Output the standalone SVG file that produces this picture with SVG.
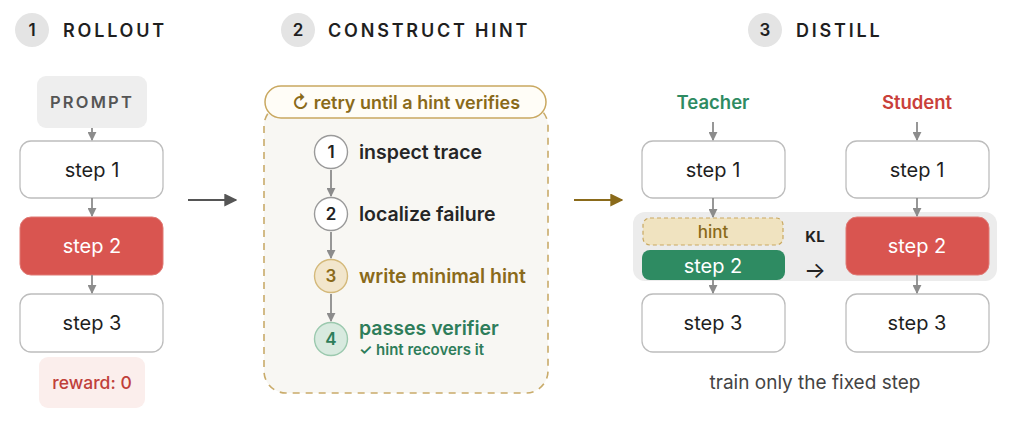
<svg xmlns="http://www.w3.org/2000/svg" width="1024" height="430" viewBox="0 0 1024 430">
<defs>
<style>
text{font-family:Inter,"Noto Sans","Liberation Sans",sans-serif;}
.hdr{font-size:18px;font-weight:600;letter-spacing:2.8px;fill:#1f1f1f;}
.hnum{font-size:17px;font-weight:600;fill:#1f1f1f;text-anchor:middle;}
.hc{fill:#e4e4e4;}
.box{fill:#fff;stroke:#bdbdbd;stroke-width:1.3;}
.red{fill:#d95550;stroke:#e07a75;stroke-width:1;}
.lbl{font-size:20px;fill:#1f1f1f;text-anchor:middle;}
.wl{font-size:20px;fill:#fff;text-anchor:middle;}
.ar{stroke:#8c8c8c;stroke-width:1.8;fill:none;marker-end:url(#ag);}
.st{font-size:19.5px;font-weight:600;fill:#262626;}
</style>
<marker id="ag" viewBox="0 0 10 10" refX="9" refY="5" markerWidth="9" markerHeight="9" markerUnits="userSpaceOnUse" orient="auto"><path d="M0,0L10,5L0,10z" fill="#8c8c8c"/></marker>
<marker id="ad" viewBox="0 0 10 10" refX="9" refY="5" markerWidth="13" markerHeight="13" markerUnits="userSpaceOnUse" orient="auto"><path d="M0,0L10,5L0,10z" fill="#555"/></marker>
<marker id="ao" viewBox="0 0 10 10" refX="9" refY="5" markerWidth="13" markerHeight="13" markerUnits="userSpaceOnUse" orient="auto"><path d="M0,0L10,5L0,10z" fill="#8a6a1a"/></marker>
</defs>
<rect width="1024" height="430" fill="#fff"/>

<g id="headers">
<circle class="hc" cx="32" cy="30" r="17"/><text class="hnum" x="32" y="36">1</text>
<text class="hdr" x="63" y="37">ROLLOUT</text>
<circle class="hc" cx="298" cy="30" r="17"/><text class="hnum" x="298" y="36">2</text>
<text class="hdr" x="328" y="37">CONSTRUCT HINT</text>
<circle class="hc" cx="765" cy="30" r="17"/><text class="hnum" x="765" y="36">3</text>
<text class="hdr" x="796" y="37">DISTILL</text>
</g>

<g id="prompt"><rect x="37" y="76" width="110" height="52" rx="9" fill="#eeeeee"/><text x="92" y="108" font-size="16.5" font-weight="600" fill="#555" text-anchor="middle" letter-spacing="2.2">PROMPT</text></g>
<g id="r-step1"><rect class="box" x="20" y="141" width="143" height="57" rx="11"/><text class="lbl" x="92" y="177">step 1</text></g>
<g id="r-step2"><rect class="red" x="20" y="217" width="143" height="58" rx="11"/><text class="wl" x="92" y="253">step 2</text></g>
<g id="r-step3"><rect class="box" x="20" y="294" width="143" height="58" rx="11"/><text class="lbl" x="92" y="330">step 3</text></g>
<g id="reward"><rect x="39" y="357" width="106" height="51" rx="9" fill="#fbeeec"/><text x="92" y="389" font-size="17.5" font-weight="500" fill="#c0403a" text-anchor="middle">reward: 0</text></g>

<g id="hint-loop">
<rect x="264" y="104" width="284" height="289" rx="22" fill="#f8f7f3" stroke="#c9ab6a" stroke-width="1.6" stroke-dasharray="7 6"/>
<rect x="265" y="86" width="281" height="32" rx="16" fill="#fffdf7" stroke="#c9a860" stroke-width="1.5"/>
<text x="406" y="109" font-size="18" font-weight="600" fill="#8a6a1a" text-anchor="middle">↻ retry until a hint verifies</text>
</g>
<g id="c1"><circle cx="331" cy="152" r="16.5" fill="#fff" stroke="#9a9a9a" stroke-width="1.4"/><text x="331" y="158" font-size="17" font-weight="600" fill="#222" text-anchor="middle">1</text><text class="st" x="359" y="159">inspect trace</text></g>
<g id="c2"><circle cx="331" cy="214" r="16.5" fill="#fff" stroke="#9a9a9a" stroke-width="1.4"/><text x="331" y="220" font-size="17" font-weight="600" fill="#222" text-anchor="middle">2</text><text class="st" x="359" y="221">localize failure</text></g>
<g id="c3"><circle cx="331" cy="276" r="16.5" fill="#f2e6cc" stroke="#d4b97a" stroke-width="1.4"/><text x="331" y="282" font-size="17" font-weight="600" fill="#8a6a1a" text-anchor="middle">3</text><text class="st" x="359" y="283" style="fill:#8a6a1a">write minimal hint</text></g>
<g id="c4"><circle cx="331" cy="339" r="16.5" fill="#d8eadf" stroke="#9bc9ae" stroke-width="1.4"/><text x="331" y="345" font-size="17" font-weight="600" fill="#2e7d5a" text-anchor="middle">4</text><text class="st" x="359" y="335" style="fill:#2e7d5a">passes verifier</text><text x="359" y="355" font-size="15" font-weight="600" fill="#2e7d5a">✓ hint recovers it</text></g>

<g id="teacher-label"><text x="713" y="109" font-size="18.5" font-weight="600" fill="#2e8b62" text-anchor="middle">Teacher</text></g>
<g id="student-label"><text x="917" y="109" font-size="18.5" font-weight="600" fill="#c9403a" text-anchor="middle">Student</text></g>
<g id="t-step1"><rect class="box" x="642" y="141" width="143" height="57" rx="11"/><text class="lbl" x="713" y="177">step 1</text></g>
<g id="s-step1"><rect class="box" x="846" y="141" width="143" height="57" rx="11"/><text class="lbl" x="917" y="177">step 1</text></g>
<g id="band"><rect x="633" y="212" width="364" height="69" rx="12" fill="#ececec"/></g>
<g id="t-hint"><rect x="643" y="218" width="140" height="27" rx="7" fill="#f0e3c0" stroke="#c9a860" stroke-width="1.2" stroke-dasharray="4 3"/><text x="713" y="238" font-size="17" font-weight="500" fill="#8a6a1a" text-anchor="middle">hint</text></g>
<g id="t-step2"><rect x="642" y="250" width="143" height="30" rx="8" fill="#2e8b62"/><text class="wl" x="713" y="273">step 2</text></g>
<g id="kl"><text x="815" y="242" font-size="15" font-weight="700" fill="#222" text-anchor="middle">KL</text><text x="815" y="278" font-size="23" fill="#222" text-anchor="middle">→</text></g>
<g id="s-step2"><rect class="red" x="846" y="217" width="143" height="58" rx="11"/><text class="wl" x="917" y="253">step 2</text></g>
<g id="t-step3"><rect class="box" x="642" y="294" width="143" height="58" rx="11"/><text class="lbl" x="713" y="330">step 3</text></g>
<g id="s-step3"><rect class="box" x="846" y="294" width="143" height="58" rx="11"/><text class="lbl" x="917" y="330">step 3</text></g>
<g id="caption"><text x="815" y="389" font-size="19" fill="#444" text-anchor="middle">train only the fixed step</text></g>

<g id="connectors">
<line class="ar" x1="92" y1="128" x2="92" y2="140"/>
<line class="ar" x1="92" y1="198" x2="92" y2="216"/>
<line class="ar" x1="92" y1="275" x2="92" y2="293"/>
<line x1="188" y1="200" x2="236" y2="200" stroke="#555" stroke-width="2" marker-end="url(#ad)"/>
<line class="ar" x1="331" y1="170" x2="331" y2="196"/>
<line class="ar" x1="331" y1="232" x2="331" y2="258"/>
<line class="ar" x1="331" y1="294" x2="331" y2="321"/>
<line x1="574" y1="200" x2="622" y2="200" stroke="#8a6a1a" stroke-width="2" marker-end="url(#ao)"/>
<line class="ar" x1="713" y1="122" x2="713" y2="140"/>
<line class="ar" x1="917" y1="122" x2="917" y2="140"/>
<line class="ar" x1="713" y1="198" x2="713" y2="217"/>
<line class="ar" x1="917" y1="198" x2="917" y2="216"/>
<line class="ar" x1="713" y1="280" x2="713" y2="293"/>
<line class="ar" x1="917" y1="275" x2="917" y2="293"/>
</g>
</svg>
